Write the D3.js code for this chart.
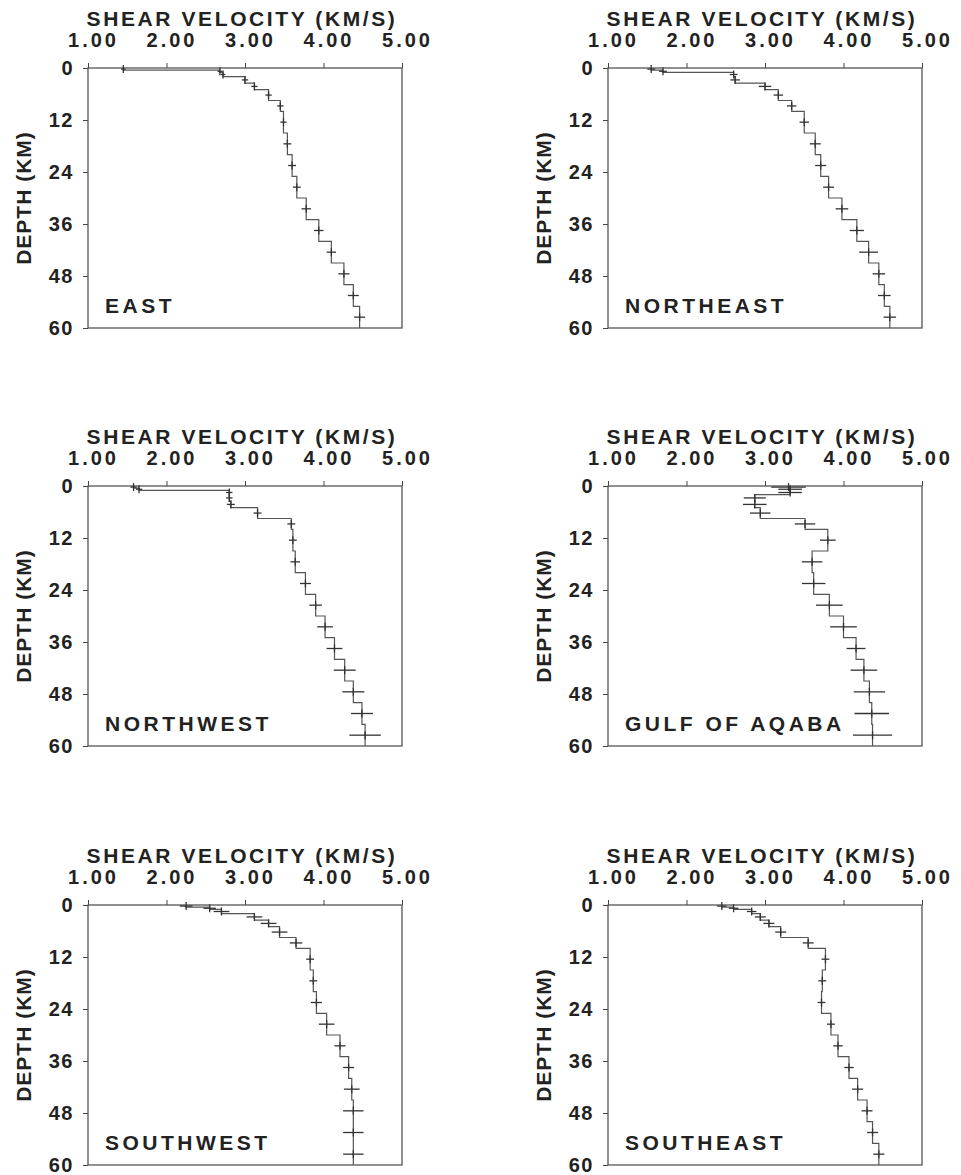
<!DOCTYPE html>
<html>
<head>
<meta charset="utf-8">
<script src="https://cdn.jsdelivr.net/npm/d3@7"></script>
<style>
body { margin: 0; background: #fff; }
text { font-family: "Liberation Sans", Arial, sans-serif; font-weight: bold; fill: #222; }
</style>
</head>
<body>
<div id="chart"></div>
<script>
// layer model: tops of layers (km), last layer ends at maxDepth
var layerTops = [0, 0.5, 1, 2, 3.5, 5, 7.5, 10, 15, 20, 25, 30, 35, 40, 45, 50, 55];
var maxDepth = 60;
var velTicks = [1, 2, 3, 4, 5];
var depthTicks = [0, 12, 24, 36, 48, 60];
var regionNames = ["EAST", "NORTHEAST", "NORTHWEST", "GULF OF AQABA", "SOUTHWEST", "SOUTHEAST"];

// shear velocity per layer (km/s) and error half-width
var velEast  = [1.45, 2.68, 2.72, 3.00, 3.12, 3.30, 3.45, 3.49, 3.54, 3.60, 3.66, 3.78, 3.94, 4.10, 4.26, 4.38, 4.46];
var errEast  = [0.03, 0.03, 0.03, 0.04, 0.04, 0.04, 0.04, 0.04, 0.05, 0.05, 0.05, 0.06, 0.06, 0.06, 0.07, 0.07, 0.07];
var velNE    = [1.55, 1.70, 2.60, 2.62, 3.00, 3.17, 3.34, 3.50, 3.64, 3.71, 3.81, 3.98, 4.17, 4.32, 4.45, 4.52, 4.59];
var errNE    = [0.05, 0.05, 0.05, 0.06, 0.08, 0.06, 0.06, 0.06, 0.07, 0.07, 0.07, 0.08, 0.09, 0.12, 0.08, 0.08, 0.08];
var velNW    = [1.58, 1.65, 2.80, 2.80, 2.82, 3.16, 3.59, 3.61, 3.64, 3.77, 3.90, 4.02, 4.14, 4.27, 4.38, 4.49, 4.53];
var errNW    = [0.04, 0.04, 0.04, 0.04, 0.05, 0.05, 0.05, 0.05, 0.06, 0.07, 0.08, 0.10, 0.10, 0.14, 0.14, 0.14, 0.20];
var velAqaba = [3.30, 3.32, 3.32, 2.87, 2.87, 2.94, 3.51, 3.80, 3.60, 3.62, 3.82, 4.00, 4.16, 4.26, 4.33, 4.36, 4.37];
var errAqaba = [0.22, 0.15, 0.15, 0.14, 0.15, 0.13, 0.13, 0.10, 0.13, 0.15, 0.17, 0.17, 0.12, 0.17, 0.20, 0.22, 0.25];
var velSW    = [2.25, 2.55, 2.70, 3.12, 3.30, 3.44, 3.65, 3.83, 3.87, 3.91, 4.04, 4.21, 4.32, 4.36, 4.38, 4.38, 4.38];
var errSW    = [0.08, 0.08, 0.10, 0.10, 0.10, 0.10, 0.08, 0.05, 0.05, 0.07, 0.10, 0.07, 0.07, 0.10, 0.13, 0.13, 0.13];
var velSE    = [2.45, 2.60, 2.83, 2.94, 3.05, 3.20, 3.55, 3.77, 3.73, 3.72, 3.84, 3.93, 4.07, 4.18, 4.30, 4.37, 4.45];
var errSE    = [0.06, 0.06, 0.06, 0.07, 0.07, 0.07, 0.07, 0.05, 0.05, 0.05, 0.05, 0.06, 0.06, 0.07, 0.07, 0.07, 0.07];

var vels = [velEast, velNE, velNW, velAqaba, velSW, velSE];
var errs = [errEast, errNE, errNW, errAqaba, errSW, errSE];

var width = 314, height = 260;
var colX = [88, 608], rowY = [68, 486, 905];
var fontFam = "'Liberation Sans', Arial, sans-serif";

var svg = d3.select("#chart").append("svg")
    .attr("width", 961)
    .attr("height", 1175);

var x = d3.scaleLinear().domain([1, 5]).range([0, width]);
var y = d3.scaleLinear().domain([0, maxDepth]).range([0, height]);

function drawPanel(i) {
    var vel = vels[i], err = errs[i];
    var g = svg.append("g")
        .attr("transform", "translate(" + colX[i % 2] + "," + rowY[Math.floor(i / 2)] + ")");

    var layers = layerTops.map(function(t, k) {
        var bot = k < layerTops.length - 1 ? layerTops[k + 1] : maxDepth;
        return {top: t, bot: bot, mid: (t + bot) / 2, v: vel[k], e: err[k]};
    });

    // axes
    var xa = g.append("g")
        .call(d3.axisTop(x).tickValues(velTicks).tickSize(5).tickPadding(16).tickFormat(d3.format(".2f")));
    xa.select(".domain").remove();
    xa.selectAll("line").attr("stroke", "#444");
    xa.selectAll("text")
        .attr("dx", 5)
        .style("font-size", "20px")
        .style("letter-spacing", "3px")
        .style("fill", "#222")
        .style("font-family", fontFam)
        .style("font-weight", "bold");

    var ya = g.append("g")
        .call(d3.axisLeft(y).tickValues(depthTicks).tickSize(5).tickPadding(9));
    ya.select(".domain").remove();
    ya.selectAll("line").attr("stroke", "#444");
    ya.selectAll("text")
        .style("font-size", "20px")
        .style("letter-spacing", "1.5px")
        .style("fill", "#222")
        .style("font-family", fontFam)
        .style("font-weight", "bold");

    g.append("rect")
        .attr("x", 0).attr("y", 0)
        .attr("width", width).attr("height", height)
        .attr("fill", "none")
        .attr("stroke", "#555")
        .attr("stroke-width", 1.3);

    g.append("text")
        .attr("x", width / 2 - 3)
        .attr("y", -42)
        .style("text-anchor", "middle")
        .style("font-size", "21px")
        .style("letter-spacing", "2.6px")
        .text("SHEAR VELOCITY (KM/S)");

    g.append("text")
        .attr("transform", "translate(-57," + (height / 2) + ") rotate(-90)")
        .style("text-anchor", "middle")
        .style("font-size", "21px")
        .style("letter-spacing", "1px")
        .text("DEPTH (KM)");

    g.append("text")
        .attr("x", 17)
        .attr("y", height - 15)
        .style("font-size", "21px")
        .style("letter-spacing", "3.5px")
        .text(regionNames[i]);

    // staircase velocity model
    var pts = [];
    layers.forEach(function(d) {
        pts.push([d.v, d.top]);
        pts.push([d.v, d.bot]);
    });
    var line = d3.line()
        .x(function(d) { return x(d[0]); })
        .y(function(d) { return y(d[1]); });
    g.append("path")
        .datum(pts)
        .attr("d", line)
        .attr("fill", "none")
        .attr("stroke", "#555")
        .attr("stroke-width", 1.2);

    // error crosses
    var cross = g.selectAll(".cross")
        .data(layers)
        .enter()
        .append("g")
        .attr("class", "cross");
    cross.append("line")
        .attr("x1", function(d) { return x(d.v - d.e); })
        .attr("x2", function(d) { return x(d.v + d.e); })
        .attr("y1", function(d) { return y(d.mid); })
        .attr("y2", function(d) { return y(d.mid); })
        .attr("stroke", "#333")
        .attr("stroke-width", 1.3);
    cross.append("line")
        .attr("x1", function(d) { return x(d.v); })
        .attr("x2", function(d) { return x(d.v); })
        .attr("y1", function(d) { return y(d.mid) - 4; })
        .attr("y2", function(d) { return y(d.mid) + 4; })
        .attr("stroke", "#333")
        .attr("stroke-width", 1.3);
}

for (var i = 0; i < regionNames.length; i++) {
    drawPanel(i);
}
</script>
</body>
</html>
